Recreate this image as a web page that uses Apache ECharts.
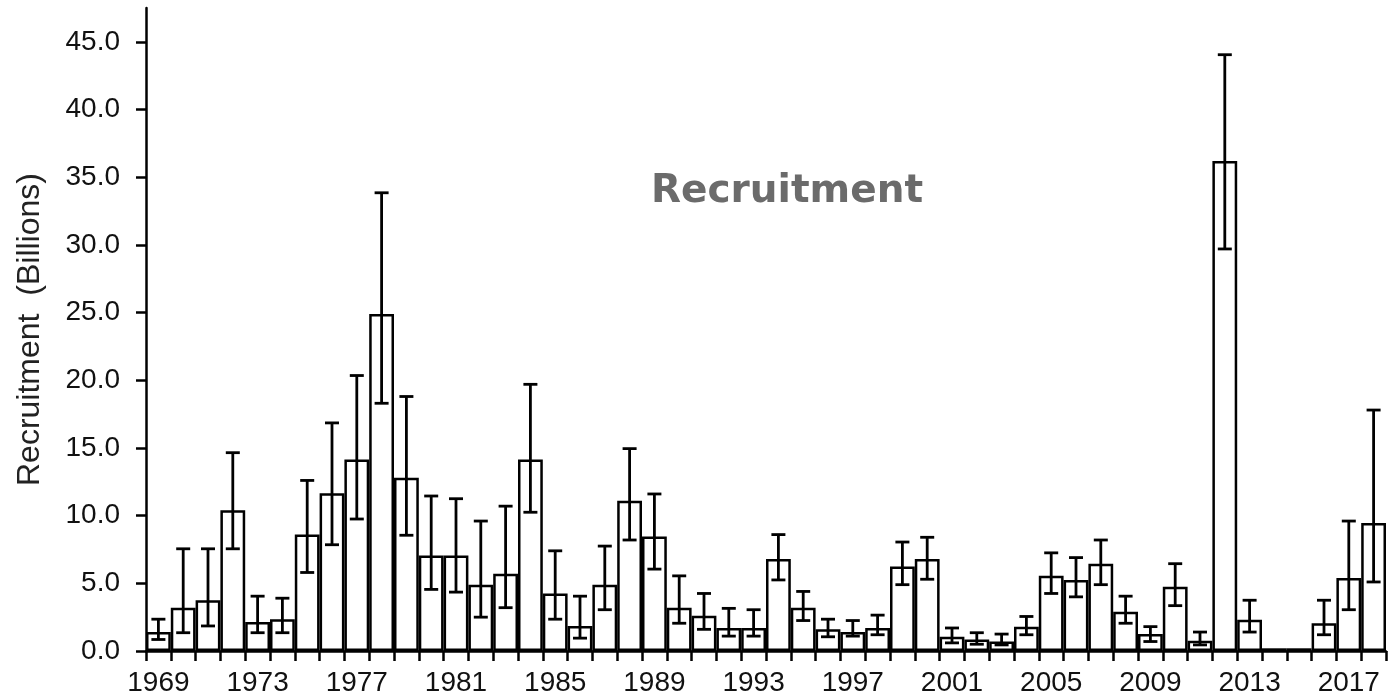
<!DOCTYPE html>
<html>
<head>
<meta charset="utf-8">
<script src="https://cdn.jsdelivr.net/npm/echarts@6/dist/echarts.min.js"></script>
<style>
html,body{margin:0;padding:0;background:#fff;}
#c{width:1396px;height:698px;}
</style>
</head>
<body>
<div id="c"></div>
<script>
var years = [];
for (var y = 1969; y <= 2018; y++) years.push(String(y));

var recruitment = [1.4, 3.2, 3.75, 10.4, 2.15, 2.35, 8.6, 11.65, 14.15, 24.9,
  12.8, 7.05, 7.05, 4.9, 5.7, 14.15, 4.25, 1.85, 4.9, 11.1,
  8.45, 3.2, 2.6, 1.7, 1.7, 6.8, 3.2, 1.6, 1.4, 1.7,
  6.25, 6.8, 1.05, 0.85, 0.7, 1.8, 5.55, 5.25, 6.45, 2.9,
  1.25, 4.75, 0.75, 36.2, 2.3, 0.2, 0.2, 2.05, 5.4, 9.45];

var errLow = [0.85, 1.35, 1.85, 7.55, 1.35, 1.35, 5.8, 7.85, 9.75, 18.3,
  8.55, 4.55, 4.35, 2.5, 3.2, 10.25, 2.35, 0.95, 3.05, 8.2,
  6.05, 2.05, 1.6, 1.1, 1.1, 5.25, 2.25, 1.05, 1.1, 1.2,
  4.9, 5.3, 0.6, 0.5, 0.45, 1.2, 4.25, 4.0, 4.9, 2.05,
  0.7, 3.35, 0.45, 29.7, 1.4, null, null, 1.2, 3.05, 5.1];

var errHigh = [2.35, 7.55, 7.55, 14.65, 4.05, 3.9, 12.6, 16.85, 20.35, 33.85,
  18.8, 11.45, 11.25, 9.6, 10.7, 19.7, 7.4, 4.05, 7.75, 14.95,
  11.6, 5.55, 4.25, 3.15, 3.05, 8.6, 4.4, 2.35, 2.25, 2.65,
  8.05, 8.4, 1.7, 1.35, 1.25, 2.55, 7.25, 6.9, 8.2, 4.05,
  1.8, 6.45, 1.4, 44.05, 3.75, null, null, 3.75, 9.6, 17.8];

var yTicks = [0, 5, 10, 15, 20, 25, 30, 35, 40, 45];

var errData = years.map(function (yr, i) {
  return [i, errLow[i], errHigh[i]];
});

var chart = echarts.init(document.getElementById('c'), null, {renderer: 'canvas'});
chart.setOption({
  backgroundColor: '#ffffff',
  animation: false,
  title: {
    text: 'Recruitment',
    left: 782,
    top: 167,
    textAlign: 'center',
    textStyle: {
      fontFamily: '"Comic Sans MS", "DejaVu Sans", sans-serif',
      fontWeight: 'bold',
      fontSize: 39,
      color: '#6b6b6b'
    }
  },
  grid: {left: 146, right: 10, top: 8, bottom: 47, containLabel: false},
  xAxis: {
    type: 'category',
    data: years,
    boundaryGap: true,
    axisLine: {lineStyle: {color: '#000', width: 2.5}},
    axisTick: {show: true, interval: 0, length: 10, lineStyle: {color: '#000', width: 2.5}},
    axisLabel: {
      interval: 3,
      margin: 18,
      fontFamily: '"Liberation Sans", Arial, sans-serif',
      fontSize: 28,
      color: '#111'
    },
    splitLine: {show: false}
  },
  yAxis: {
    type: 'value',
    min: 0,
    max: 47.5,
    interval: 5,
    name: 'Recruitment  (Billions)',
    nameLocation: 'middle',
    nameGap: 100,
    nameTextStyle: {
      fontFamily: '"Liberation Sans", Arial, sans-serif',
      fontSize: 32,
      color: '#222'
    },
    axisLine: {show: true, lineStyle: {color: '#000', width: 2.5}},
    axisTick: {show: true, length: 10, customValues: yTicks, lineStyle: {color: '#000', width: 2.5}},
    axisLabel: {
      customValues: yTicks,
      margin: 26,
      fontFamily: '"Liberation Sans", Arial, sans-serif',
      fontSize: 28,
      color: '#111',
      formatter: function (v) { return Number(v).toFixed(1); }
    },
    splitLine: {show: false}
  },
  series: [
    {
      type: 'bar',
      data: recruitment,
      barCategoryGap: '0%',
      itemStyle: {color: '#ffffff', borderColor: '#000', borderWidth: 2.5},
      z: 2
    },
    {
      type: 'custom',
      data: errData,
      z: 5,
      renderItem: function (params, api) {
        var lo = api.value(1), hi = api.value(2);
        if (lo == null || hi == null || isNaN(lo) || isNaN(hi)) return null;
        var idx = api.value(0);
        var p1 = api.coord([idx, lo]);
        var p2 = api.coord([idx, hi]);
        var w = 7;
        var st = {stroke: '#000', lineWidth: 2.8};
        return {
          type: 'group',
          children: [
            {type: 'line', shape: {x1: p1[0], y1: p1[1], x2: p2[0], y2: p2[1]}, style: st},
            {type: 'line', shape: {x1: p1[0] - w, y1: p1[1], x2: p1[0] + w, y2: p1[1]}, style: st},
            {type: 'line', shape: {x1: p2[0] - w, y1: p2[1], x2: p2[0] + w, y2: p2[1]}, style: st}
          ]
        };
      }
    }
  ]
});
</script>
</body>
</html>
